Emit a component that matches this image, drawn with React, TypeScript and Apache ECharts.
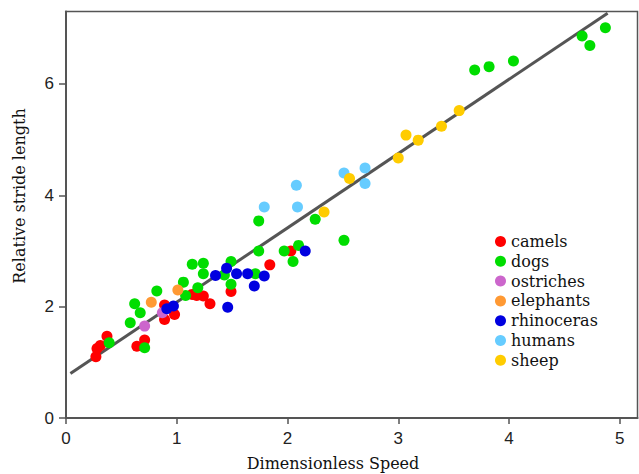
import React, { useEffect, useRef } from "react";
import * as echarts from "echarts";

// [dimensionless speed, relative stride length]
const camels: number[][] = [
  [0.27, 1.1], [0.28, 1.25], [0.31, 1.3], [0.37, 1.47], [0.64, 1.29], [0.71, 1.4],
  [0.89, 2.03], [0.89, 1.77], [0.98, 1.86], [1.14, 2.22], [1.18, 2.2], [1.24, 2.19],
  [1.3, 2.05], [1.49, 2.27], [1.84, 2.75], [2.03, 3.0],
];
const dogs: number[][] = [
  [0.39, 1.35], [0.71, 1.26], [0.58, 1.71], [0.62, 2.05], [0.67, 1.89], [0.82, 2.28],
  [1.06, 2.44], [1.08, 2.2], [1.14, 2.76], [1.24, 2.78], [1.24, 2.59], [1.19, 2.34],
  [1.43, 2.57], [1.49, 2.81], [1.49, 2.4], [1.74, 3.54], [1.74, 3.0], [1.71, 2.59],
  [1.97, 3.0], [2.05, 2.81], [2.1, 3.1], [2.25, 3.57], [2.51, 3.19], [3.69, 6.25],
  [3.82, 6.31], [4.04, 6.41], [4.66, 6.86], [4.73, 6.69], [4.87, 7.01],
];
const ostriches: number[][] = [[0.71, 1.65], [0.87, 1.89]];
const elephants: number[][] = [[0.77, 2.08], [1.01, 2.3]];
const rhinoceras: number[][] = [
  [0.91, 1.96], [0.97, 2.01], [1.35, 2.56], [1.45, 2.69], [1.54, 2.59], [1.64, 2.59],
  [1.79, 2.55], [1.7, 2.37], [1.46, 1.99], [2.16, 3.0],
];
const humans: number[][] = [
  [1.79, 3.79], [2.08, 4.18], [2.09, 3.79], [2.51, 4.4], [2.7, 4.49], [2.7, 4.21],
];
const sheep: number[][] = [
  [2.33, 3.7], [2.56, 4.3], [3.0, 4.67], [3.07, 5.08], [3.18, 4.99], [3.39, 5.24], [3.55, 5.52],
];
const fitLine: number[][] = [[0.04, 0.8], [4.89, 7.27]];

const seriesNames = ["camels", "dogs", "ostriches", "elephants", "rhinoceras", "humans", "sheep"];
const seriesData = [camels, dogs, ostriches, elephants, rhinoceras, humans, sheep];
const seriesColors = ["#ff0000", "#00dd00", "#cc66cc", "#ff9933", "#0000e0", "#66ccff", "#ffcc00"];

const xTitle = "Dimensionless Speed";
const yTitle = "Relative stride length";

export default function App() {
  const ref = useRef<HTMLDivElement>(null);
  useEffect(() => {
    if (!ref.current) return;
    const chart = echarts.init(ref.current, undefined, { renderer: "svg" });
    const tickLabel = { fontFamily: "Liberation Sans", fontSize: 17, color: "#222" };
    chart.setOption({
      animation: false,
      backgroundColor: "#ffffff",
      grid: {
        left: 66,
        right: 1.5,
        top: 11.5,
        bottom: 56,
        show: true,
        borderColor: "#555",
        borderWidth: 1.5,
      },
      xAxis: {
        type: "value",
        min: 0,
        max: 5.16,
        interval: 1,
        splitLine: { show: false },
        axisLine: { lineStyle: { color: "#555", width: 2 } },
        axisTick: { length: 6, lineStyle: { color: "#555", width: 1.5 } },
        axisLabel: { ...tickLabel, margin: 12, showMaxLabel: false },
      },
      yAxis: {
        type: "value",
        min: 0,
        max: 7.3,
        interval: 2,
        splitLine: { show: false },
        axisLine: { show: true, lineStyle: { color: "#555", width: 2 } },
        axisTick: { show: true, length: 7, lineStyle: { color: "#555", width: 1.5 } },
        axisLabel: { ...tickLabel, margin: 12, showMaxLabel: false },
      },
      legend: {
        orient: "vertical",
        left: 490,
        top: 228.5,
        itemWidth: 11,
        itemHeight: 11,
        itemGap: 3.8,
        icon: "circle",
        data: seriesNames,
        textStyle: { fontFamily: "DejaVu Serif", fontSize: 16, color: "#111" },
      },
      graphic: [
        {
          type: "text",
          x: 333,
          y: 463,
          style: {
            text: xTitle,
            fontFamily: "DejaVu Serif",
            fontSize: 16,
            fill: "#111",
            align: "center",
            verticalAlign: "middle",
          },
        },
        {
          type: "text",
          x: 19.5,
          y: 196,
          rotation: Math.PI / 2,
          style: {
            text: yTitle,
            fontFamily: "DejaVu Serif",
            fontSize: 16,
            fill: "#111",
            align: "center",
            verticalAlign: "middle",
          },
        },
      ],
      series: [
        {
          type: "line",
          data: fitLine,
          showSymbol: false,
          symbol: "none",
          lineStyle: { color: "#555", width: 3 },
          silent: true,
          z: 1,
        },
        ...seriesNames.map((name, i) => ({
          name,
          type: "scatter",
          data: seriesData[i],
          symbolSize: 11,
          itemStyle: { color: seriesColors[i], opacity: 1 },
          z: 2,
        })),
      ],
    });
    return () => chart.dispose();
  }, []);
  return (
    <div
      ref={ref}
      style={{ position: "fixed", left: 0, top: 0, width: 639, height: 474 }}
    />
  );
}
